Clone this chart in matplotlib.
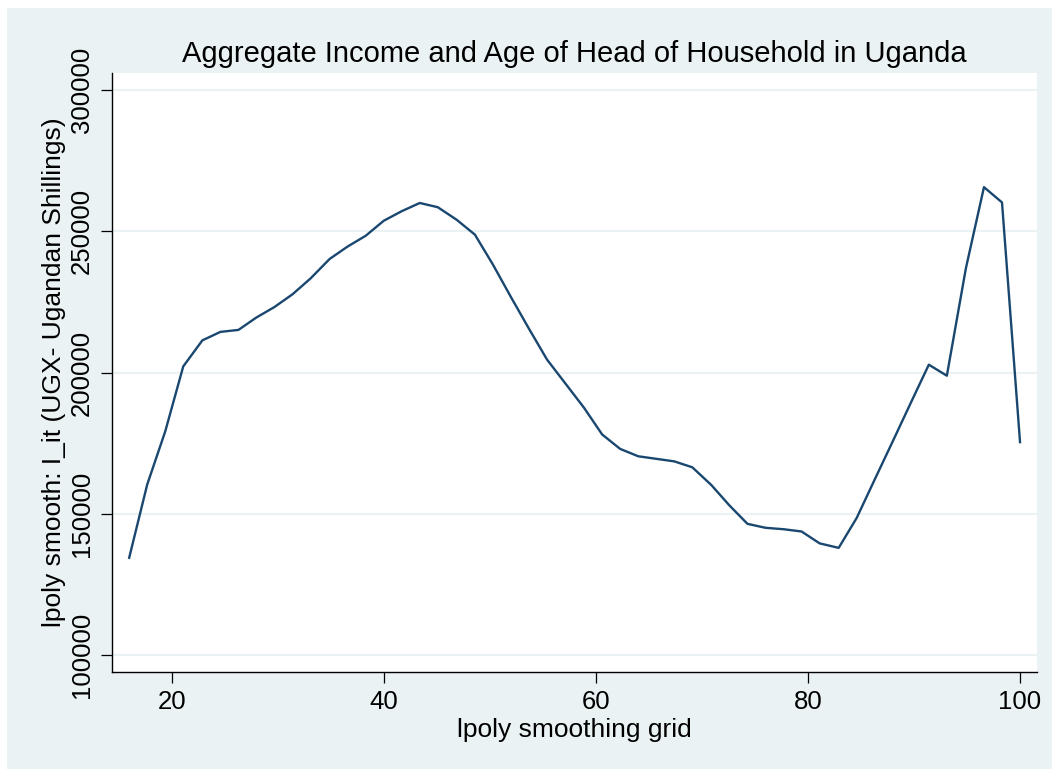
import numpy as np
import matplotlib.pyplot as plt
from matplotlib.patches import Rectangle

plt.rcParams['font.family'] = ['Liberation Sans', 'DejaVu Sans']

# lpoly grid (age) and smoothed income
grid_x = [16.0, 17.7, 19.4, 21.1, 22.9, 24.6, 26.3, 28.0, 29.7, 31.4,
          33.1, 34.9, 36.6, 38.3, 40.0, 41.7, 43.4, 45.1, 46.9, 48.6,
          50.3, 52.0, 53.7, 55.4, 57.1, 58.9, 60.6, 62.3, 64.0, 65.7,
          67.4, 69.1, 70.9, 72.6, 74.3, 76.0, 77.7, 79.4, 81.1, 82.9,
          84.6, 86.3, 88.0, 89.7, 91.4, 93.1, 94.9, 96.6, 98.3, 100.0]
income = [134500, 160400, 179200, 202200, 211400, 214400, 215100, 219500, 223200, 227700,
          233300, 240200, 244600, 248400, 253700, 257100, 260000, 258500, 254000, 248800,
          238200, 226700, 215500, 204600, 196300, 187500, 178100, 173000, 170400, 169500,
          168600, 166500, 160200, 153000, 146500, 145100, 144600, 143800, 139600, 138000,
          148600, 162200, 175700, 189300, 202800, 198900, 237000, 265600, 260200, 175400]

xticks = [20, 40, 60, 80, 100]
yticks = [100000, 150000, 200000, 250000, 300000]

W, H = 1052, 769
fig = plt.figure(figsize=(W / 100, H / 100), dpi=100)
fig.patch.set_facecolor('white')
# stata style outer panel
fig.patches.append(Rectangle((7 / W, 0), (W - 7) / W, (H - 8) / H,
                             transform=fig.transFigure, facecolor='#EAF2F3',
                             edgecolor='none', zorder=-5))

ax = fig.add_axes([112 / W, 1 - 672 / H, (1037 - 112) / W, (672 - 73) / H])
ax.set_facecolor('white')
ax.plot(grid_x, income, color='#1A476F', lw=1.7, zorder=3)

ax.set_xlim(14.38, 101.6)
ax.set_ylim(94093, 305978)
ax.set_xticks(xticks)
ax.set_yticks(yticks)
ax.set_yticklabels([str(v) for v in yticks], rotation=90, va='center')
ax.grid(axis='y', color='#EAF2F3', lw=1.5)
ax.set_axisbelow(True)

for s in ['top', 'right']:
    ax.spines[s].set_visible(False)
for s in ['left', 'bottom']:
    ax.spines[s].set_color('black')
    ax.spines[s].set_linewidth(1.0)
ax.tick_params(direction='out', length=8, width=0.9, labelsize=18.5, pad=5)

ax.set_xlabel('lpoly smoothing grid', fontsize=19, labelpad=3)
ax.set_ylabel('lpoly smooth: I_it (UGX- Ugandan Shillings)', fontsize=19, labelpad=3)
ax.set_title('Aggregate Income and Age of Head of Household in Uganda',
             fontsize=21, pad=8)

fig.savefig('out.png', dpi=100)
